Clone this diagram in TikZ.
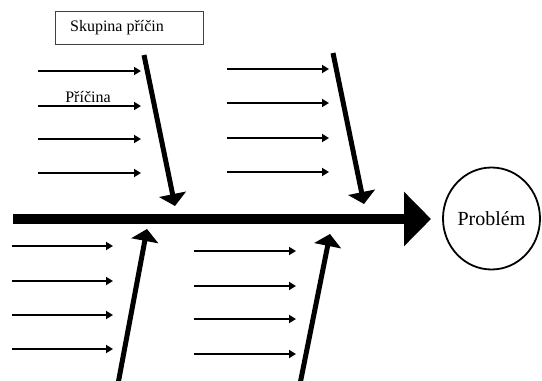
\documentclass[tikz,border=0pt]{standalone}
\usepackage{fontspec}
\setmainfont{Liberation Serif}
\usetikzlibrary{arrows.meta,shapes.geometric}
\begin{document}
\begin{tikzpicture}[x=1pt,y=-1pt,
  cause/.style={line width=1.8pt,-{Triangle[length=7pt,width=8pt]}},
  bone/.style={line width=5pt,-{Triangle[length=12pt,width=27pt]}},
  spine/.style={line width=10pt,-{Triangle[length=27pt,width=53pt]}},
  lbl/.style={inner sep=0pt,font=\fontsize{16}{18}\selectfont}]
\useasboundingbox (0,0) rectangle (542,381);
% spine and problem
\coordinate (s0) at (13,219);
\coordinate (s1) at (431,219);
\draw[spine] (s0) -- (s1);
\node[ellipse,draw,line width=1.8pt,minimum width=97pt,minimum height=102pt,inner sep=0pt,
      font=\fontsize{20}{22}\selectfont] (prob) at (491.5,218.5) {Problém};
% group box
\node[draw=black!75,line width=0.8pt,minimum width=148pt,minimum height=33pt,inner sep=0pt] (grp) at (129,27.5) {};
\node[lbl] (grptxt) at (117,27.5) {Skupina příčin};
\node[lbl] (cause) at (88,97) {Příčina};
% top-left group
\coordinate (a0) at (144,55); \coordinate (a1) at (175,206);
\draw[bone] (a0) -- (a1);
\foreach \y [count=\i] in {71,106,139,173}{
  \coordinate (tl\i a) at (38,\y); \coordinate (tl\i b) at (141,\y);
  \draw[cause] (tl\i a) -- (tl\i b);}
% top-right group
\coordinate (b0) at (333,53); \coordinate (b1) at (364,204);
\draw[bone] (b0) -- (b1);
\foreach \y [count=\i] in {69,103,138,172}{
  \coordinate (tr\i a) at (227,\y); \coordinate (tr\i b) at (329,\y);
  \draw[cause] (tr\i a) -- (tr\i b);}
% bottom-left group
\coordinate (c0) at (118,384); \coordinate (c1) at (147,229);
\draw[bone] (c0) -- (c1);
\foreach \y [count=\i] in {246,281,315,349}{
  \coordinate (bl\i a) at (12,\y); \coordinate (bl\i b) at (113,\y);
  \draw[cause] (bl\i a) -- (bl\i b);}
% bottom-right group
\coordinate (d0) at (300,384); \coordinate (d1) at (330,234);
\draw[bone] (d0) -- (d1);
\foreach \y [count=\i] in {251,286,319,354}{
  \coordinate (br\i a) at (194,\y); \coordinate (br\i b) at (296,\y);
  \draw[cause] (br\i a) -- (br\i b);}
\end{tikzpicture}
\end{document}
